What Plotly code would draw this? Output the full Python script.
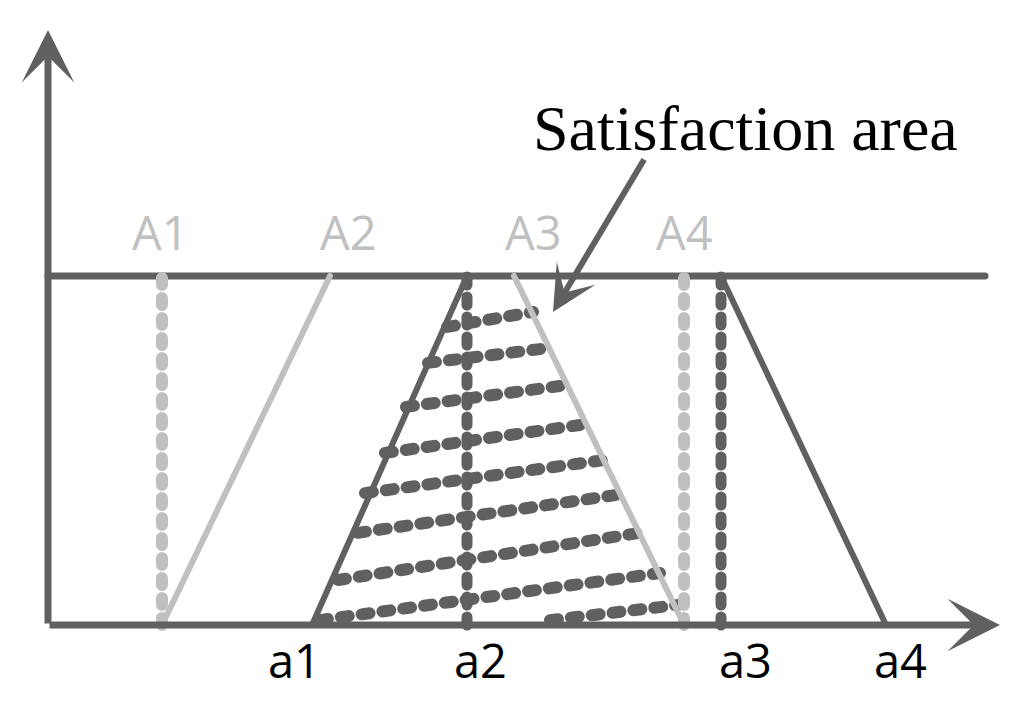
import plotly.graph_objects as go

# ---------------- data (x in diagram units, y = membership degree) ----------------
DARK = "#606060"
LIGHT = "#c0c0c0"

a_names = ["a1", "a2", "a3", "a4"]
a_vals = [2.64, 4.19, 6.73, 8.38]          # dark trapezoid break points
a_label_x = [2.46, 4.32, 6.97, 8.52]

A_names = ["A1", "A2", "A3", "A4"]
A_vals = [1.14, 2.82, 4.66, 6.36]          # light (reference) break points
A_label_x = [1.12, 3.00, 4.85, 6.36]

mu_low, mu_high = 0.0, 1.0
A_label_y = 1.126
a_label_y = -0.100

# hatching of the satisfaction area (start / end of each dotted row)
hatch_x0 = [3.99, 3.80, 3.58, 3.37, 3.17, 3.10, 2.90, 2.72, 5.02]
hatch_y0 = [0.854, 0.751, 0.625, 0.493, 0.378, 0.264, 0.129, 0.014, 0.014]
hatch_x1 = [4.85, 5.02, 5.20, 5.39, 5.57, 5.74, 5.92, 6.12, 6.29]
hatch_y1 = [0.897, 0.794, 0.688, 0.576, 0.473, 0.375, 0.264, 0.149, 0.057]

x_axis_end = 9.52
y_axis_end = 1.705
top_line_end = 9.37

callout_text = "Satisfaction area"
callout_pos = (6.97, 1.424)
callout_tail = (5.97, 1.338)
callout_tip = (5.05, 0.897)

x_range = [-0.48, 9.76]
y_range = [-0.2264, 1.7908]

# ---------------- figure ----------------
fig = go.Figure()


def seg(x0, y0, x1, y1, color, width, dash=None):
    fig.add_trace(go.Scatter(
        x=[x0, x1], y=[y0, y1], mode="lines",
        line=dict(color=color, width=width, dash=dash),
        hoverinfo="skip", showlegend=False))


# hatch rows
for x0, y0, x1, y1 in zip(hatch_x0, hatch_y0, hatch_x1, hatch_y1):
    seg(x0, y0, x1, y1, DARK, 12, "8px,13px")

# top line (membership = 1)
seg(0, mu_high, top_line_end, mu_high, DARK, 7)

# light reference shape
seg(A_vals[0], mu_low, A_vals[0], mu_high, LIGHT, 12, "7px,13px")
seg(A_vals[0], mu_low, A_vals[1], mu_high, LIGHT, 6)
seg(A_vals[2], mu_high, A_vals[3], mu_low, LIGHT, 6)
seg(A_vals[3], mu_low, A_vals[3], mu_high, LIGHT, 12, "7px,13px")

# dark trapezoid
seg(a_vals[0], mu_low, a_vals[1], mu_high, DARK, 6)
seg(a_vals[1], mu_low, a_vals[1], mu_high, DARK, 11, "8px,12px")
seg(a_vals[2], mu_low, a_vals[2], mu_high, DARK, 11, "8px,12px")
seg(a_vals[2], mu_high, a_vals[3], mu_low, DARK, 6)

annotations = []
# axes with arrow heads
for (tx, ty) in [(x_axis_end, 0.0), (0.0, y_axis_end)]:
    annotations.append(dict(
        x=tx, y=ty, ax=0.0, ay=0.0, xref="x", yref="y", axref="x", ayref="y",
        text="", showarrow=True, arrowhead=3, arrowsize=1.25, arrowwidth=7,
        arrowcolor=DARK, standoff=0, startstandoff=0))

# labels
for name, lx in zip(A_names, A_label_x):
    annotations.append(dict(x=lx, y=A_label_y, xref="x", yref="y", text=name,
                            showarrow=False,
                            font=dict(family="Open Sans", size=47, color=LIGHT)))
for name, lx in zip(a_names, a_label_x):
    annotations.append(dict(x=lx, y=a_label_y, xref="x", yref="y", text=name,
                            showarrow=False,
                            font=dict(family="Open Sans", size=47, color="black")))

# callout
annotations.append(dict(x=callout_pos[0], y=callout_pos[1], xref="x", yref="y",
                        text=callout_text, showarrow=False,
                        font=dict(family="Liberation Serif", size=64, color="black")))
annotations.append(dict(
    x=callout_tip[0], y=callout_tip[1], ax=callout_tail[0], ay=callout_tail[1],
    xref="x", yref="y", axref="x", ayref="y", text="", showarrow=True,
    arrowhead=3, arrowsize=1.25, arrowwidth=6, arrowcolor=DARK,
    standoff=0, startstandoff=0))

fig.update_layout(
    width=1024, height=704,
    margin=dict(l=0, r=0, t=0, b=0),
    paper_bgcolor="white", plot_bgcolor="white",
    xaxis=dict(range=x_range, visible=False, fixedrange=True),
    yaxis=dict(range=y_range, visible=False, fixedrange=True),
    annotations=annotations,
    showlegend=False,
)

post = """
document.body.style.margin='0';
document.body.style.padding='0';
function rc(){document.querySelectorAll('.js-line').forEach(function(p){p.style.strokeLinecap='round';});}
rc(); setTimeout(rc, 0); setTimeout(rc, 200);
"""

fig.write_html("out.html", config={"displayModeBar": False}, post_script=post)
